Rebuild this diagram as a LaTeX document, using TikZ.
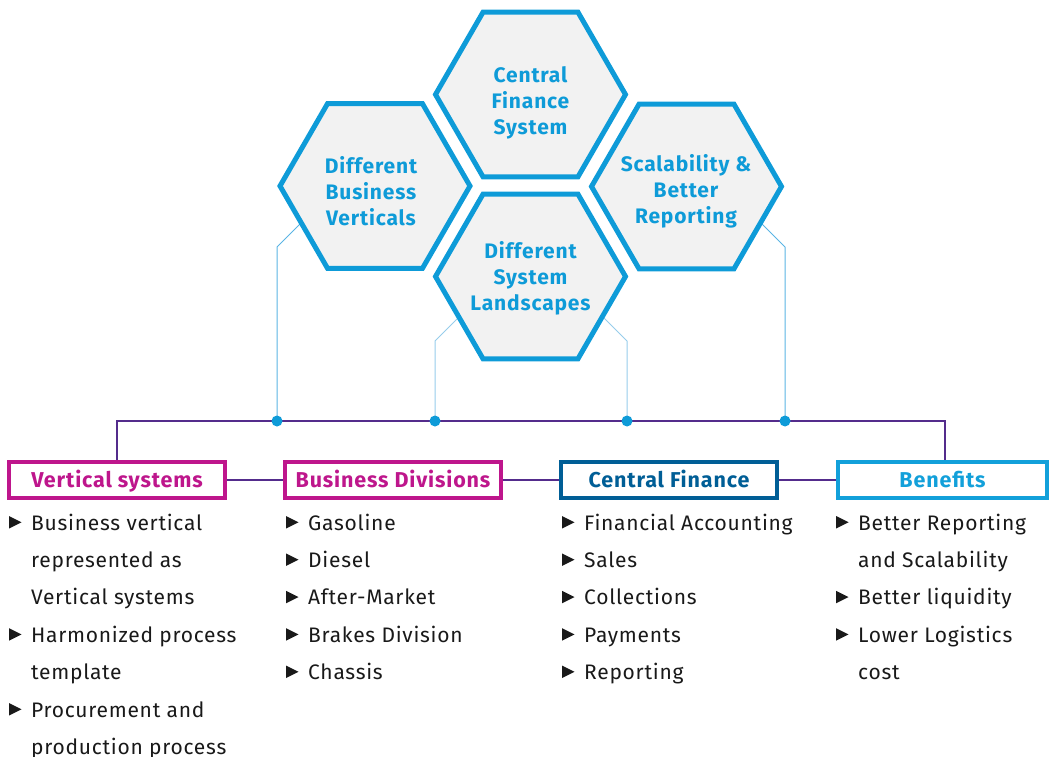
\documentclass[tikz,border=0pt]{standalone}
\usepackage{fontspec}
\setmainfont{Fira Sans}
\newfontfamily\hexfont{Fira Sans}[LetterSpace=4]
\newfontfamily\bodyfont{Fira Sans}[LetterSpace=3.5]
\usetikzlibrary{shapes.geometric,backgrounds}
\definecolor{hexblue}{RGB}{14,155,216}
\definecolor{hexfill}{RGB}{242,242,242}
\definecolor{magen}{RGB}{190,22,140}
\definecolor{cfblue}{RGB}{0,94,150}
\definecolor{beblue}{RGB}{18,160,218}
\definecolor{purp}{RGB}{84,44,140}
\definecolor{connA}{RGB}{90,180,228}
\definecolor{connB}{RGB}{150,205,235}
\definecolor{bodytxt}{RGB}{25,25,25}
\begin{document}
\begin{tikzpicture}[x=1pt,y=-1pt,
  hexa/.style={regular polygon, regular polygon sides=6, minimum size=190pt, inner sep=0pt,
    draw=hexblue, fill=hexfill, line width=5pt},
  hextext/.style={align=center, inner sep=0pt, text=hexblue,
    font=\hexfont\bfseries\fontsize{21}{26}\selectfont},
  hdr/.style={rectangle, fill=white, line width=4pt, minimum width=216pt, minimum height=36pt,
    inner sep=0pt, text height=14.5pt, text depth=0pt,
    font=\hexfont\bfseries\fontsize{21.5}{24}\selectfont},
  bodyline/.style={anchor=base west, inner sep=0pt, text=bodytxt,
    font=\bodyfont\fontsize{21}{25}\selectfont},
  bul/.style={fill=bodytxt},
  dotn/.style={circle, fill=hexblue, inner sep=0pt, minimum size=11pt},
  purpline/.style={draw=purp, line width=2pt},
  connline/.style={line width=1pt}]
\useasboundingbox (0,0) rectangle (1053,757);

% hexagons
\node[hexa] (hT) at (530.5,94.5) {};
\node[hexa] (hL) at (375,186) {};
\node[hexa] (hB) at (530.5,276.5) {};
\node[hexa] (hR) at (686.5,186.5) {};
\node[hextext] (tT) at (530.5,103) {Central\\Finance\\System};
\node[hextext] (tL) at (371,191) {Different\\Business\\Verticals};
\node[hextext] (tB) at (530.5,278.5) {Different\\System\\Landscapes};
\node[hextext] (tR) at (686,191) {Scalability \&\\Better\\Reporting};

% header boxes
\node[hdr, draw=magen, text=magen] (vs) at (117,480) {Vertical systems};
\node[hdr, draw=magen, text=magen] (bd) at (393,480) {Business Divisions};
\node[hdr, draw=cfblue, text=cfblue] (cf) at (669,480) {Central Finance};
\node[hdr, draw=beblue, text=beblue, minimum width=209pt] (be) at (942.5,480) {Benefits};

% purple connectors
\coordinate (jL) at (117,421);
\coordinate (jR) at (945,421);
\draw[purpline] (vs.north) -- (jL) -- (jR) -- (jR |- be.north);
\draw[purpline] (vs.east) -- (bd.west);
\draw[purpline] (bd.east) -- (cf.west);
\draw[purpline] (cf.east) -- (be.west);

% dots
\node[dotn] (dA) at (277,421) {};
\node[dotn] (dB) at (435,421) {};
\node[dotn] (dC) at (627,421) {};
\node[dotn] (dD) at (785,421) {};
\coordinate (bA) at (277,247);
\coordinate (bB) at (435,341);
\coordinate (bC) at (627,341);
\coordinate (bD) at (785,247);
\begin{pgfonlayer}{background}
\draw[connline, draw=connA] (dA.center) -- (bA) -- ++(30,-30);
\draw[connline, draw=connB] (dB.center) -- (bB) -- ++(30,-30);
\draw[connline, draw=connB] (dC.center) -- (bC) -- ++(-30,-30);
\draw[connline, draw=connA] (dD.center) -- (bD) -- ++(-30,-30);
\end{pgfonlayer}

% lists
\foreach \t [count=\i from 0] in {Business vertical,represented as,Vertical systems,Harmonized process,template,Procurement and,production process}
  \node[bodyline] (a\i) at (31,530+37.4*\i) {\t};
\foreach \t [count=\i from 0] in {Gasoline,Diesel,After-Market,Brakes Division,Chassis}
  \node[bodyline] (b\i) at (308,530+37.4*\i) {\t};
\foreach \t [count=\i from 0] in {Financial Accounting,Sales,Collections,Payments,Reporting}
  \node[bodyline] (c\i) at (584,530+37.4*\i) {\t};
\foreach \t [count=\i from 0] in {Better Reporting,and Scalability,Better liquidity,Lower Logistics,cost}
  \node[bodyline] (e\i) at (858,530+37.4*\i) {\t};

\foreach \n in {a0,a3,a5,b0,b1,b2,b3,b4,c0,c1,c2,c3,c4,e0,e2,e3}
  \fill[bul] ([shift={(-22,-1.5)}]\n.base west) -- ++(0,-12.5) -- ++(12.5,6.25) -- cycle;
\end{tikzpicture}
\end{document}
